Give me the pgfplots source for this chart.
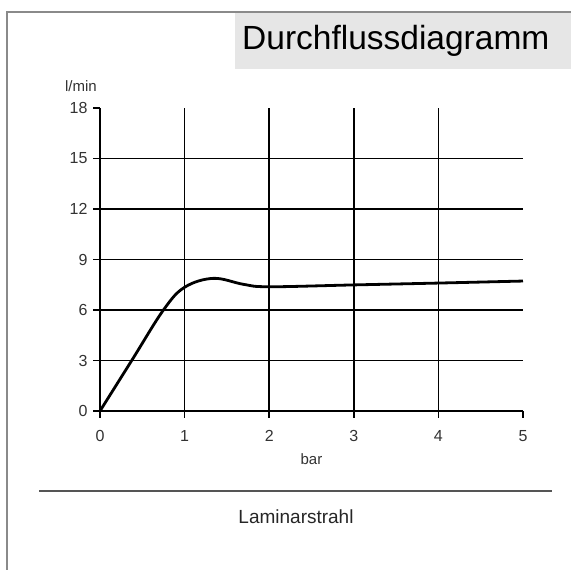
\documentclass[border=0pt]{standalone}
\usepackage{fontspec}
\setmainfont{Liberation Sans}
\usepackage{pgfplots}
\pgfplotsset{compat=1.18}
\definecolor{bordergray}{HTML}{8A8A8A}
\definecolor{titlebox}{HTML}{E6E6E6}
\definecolor{txt}{HTML}{333333}
\definecolor{rule}{HTML}{555555}
\begin{document}
\begin{tikzpicture}[x=1pt,y=1pt]
\useasboundingbox (0,0) rectangle (571,570);
\fill[white] (0,0) rectangle (571,570);
\fill[titlebox] (235,501) rectangle (571,558);
\draw[bordergray, line width=2pt] (7,0) -- (7,558) -- (571,558);
\node[anchor=base west, inner sep=0pt, font=\fontsize{33.5}{38}\selectfont] at (242,520) {Durchflussdiagramm};
\draw[rule, line width=2.5pt] (39,79) -- (552,79);
\node[font=\fontsize{19}{22}\selectfont, text=black!85] at (296,53) {Laminarstrahl};
\begin{axis}[
  at={(100pt,159pt)}, anchor=origin,
  scale only axis, width=423pt, height=303pt,
  xmin=0, xmax=5, ymin=0, ymax=18,
  axis x line*=bottom, axis y line*=left,
  xtick={0,1,2,3,4}, extra x ticks={5}, extra x tick style={grid=none},
  ytick={0,3,6,9,12,15}, extra y ticks={18}, extra y tick style={grid=none},
  grid=major,
  major grid style={black, line width=1.5pt},
  axis line style={black, line width=1.5pt},
  tick style={black, line width=1.5pt},
  tick align=outside, major tick length=7pt,
  /pgf/number format/assume math mode=true,
  ticklabel style={font=\fontsize{16}{18}\selectfont, text=txt},
  yticklabel style={xshift=-2pt},
  xticklabel style={yshift=-9pt},
  xlabel={bar},
  xlabel style={at={(axis description cs:0.5,0)}, anchor=center, yshift=-48pt, font=\fontsize{15}{18}\selectfont, text=txt},
  ylabel={l/min},
  ylabel style={rotate=-90, at={(axis description cs:0,0)}, anchor=center, xshift=-19pt, yshift=325pt, font=\fontsize{15}{18}\selectfont, text=txt},
  clip=false,
]
\addplot[black, line width=2.8pt, smooth, tension=0.6] coordinates {
(0,0) (0.375,3.0) (0.75,6.0) (1,7.35) (1.34,7.88) (1.7,7.52) (2,7.38) (3,7.49) (4,7.6) (5,7.72)
};
\end{axis}
\end{tikzpicture}
\end{document}
